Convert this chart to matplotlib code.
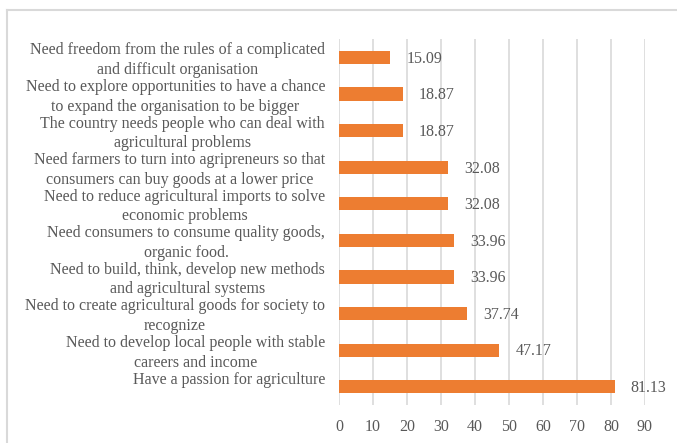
import matplotlib
matplotlib.use("Agg")
import matplotlib.pyplot as plt
from matplotlib.lines import Line2D

categories = [
    "Have a passion for agriculture",
    "Need to develop local people with stable\ncareers and income",
    "Need to create agricultural goods for society to\nrecognize",
    "Need to build, think, develop new methods\nand agricultural systems",
    "Need consumers to consume quality goods,\norganic food.",
    "Need to reduce agricultural imports to solve\neconomic problems",
    "Need farmers to turn into agripreneurs so that\nconsumers can buy goods at a lower price",
    "The country needs people who can deal with\nagricultural problems",
    "Need to explore opportunities to have a chance\nto expand the organisation to be bigger",
    "Need freedom from the rules of a complicated\nand difficult organisation",
]
values = [81.13, 47.17, 37.74, 33.96, 33.96, 32.08, 32.08, 18.87, 18.87, 15.09]
x_ticks = [0, 10, 20, 30, 40, 50, 60, 70, 80, 90]

plt.rcParams["font.family"] = ["Liberation Serif", "DejaVu Serif"]

fig = plt.figure(figsize=(6.77, 4.43), dpi=100)
ax = fig.add_axes([0.5007, 0.0858, 0.452, 0.826])

bar_color = "#ED7D31"
grid_color = "#D9D9D9"
text_color = "#595959"

y = list(range(len(categories)))
ax.barh(y, values, height=0.36, color=bar_color, zorder=3)

# value labels to the right of each bar
for yi, v in zip(y, values):
    ax.annotate(f"{v:.2f}", xy=(v, yi), xytext=(11.5, -1), textcoords="offset points",
                ha="left", va="center", fontsize=11.5, color=text_color, zorder=4)

# category labels, right-aligned against the plot area
for yi, label in zip(y, categories):
    dy = 5 if "\n" not in label else -2
    ax.annotate(label, xy=(0, yi), xycoords=("axes fraction", "data"),
                xytext=(-10, dy), textcoords="offset points",
                ha="right", va="center", multialignment="center",
                linespacing=1.3, fontsize=11.5, color=text_color)

ax.set_xlim(0, 90)
ax.set_ylim(-0.5, len(categories) - 0.5)
ax.set_xticks(x_ticks)
ax.set_xticklabels([str(t) for t in x_ticks], fontsize=11.5, color=text_color)
ax.set_yticks([])
ax.tick_params(axis="both", length=0)
ax.tick_params(axis="x", pad=10)
ax.xaxis.grid(True, color=grid_color, linewidth=1.2, zorder=0)
ax.set_axisbelow(True)
for s in ax.spines.values():
    s.set_visible(False)

# light frame around the chart area
fig.add_artist(Line2D([6.7 / 677, 1.0], [1 - 10 / 443, 1 - 10 / 443],
                      transform=fig.transFigure, color=grid_color, linewidth=1.5))
fig.add_artist(Line2D([6.7 / 677, 6.7 / 677], [0.0, 1 - 10 / 443],
                      transform=fig.transFigure, color=grid_color, linewidth=1.5))

fig.savefig("out.png", dpi=100)
